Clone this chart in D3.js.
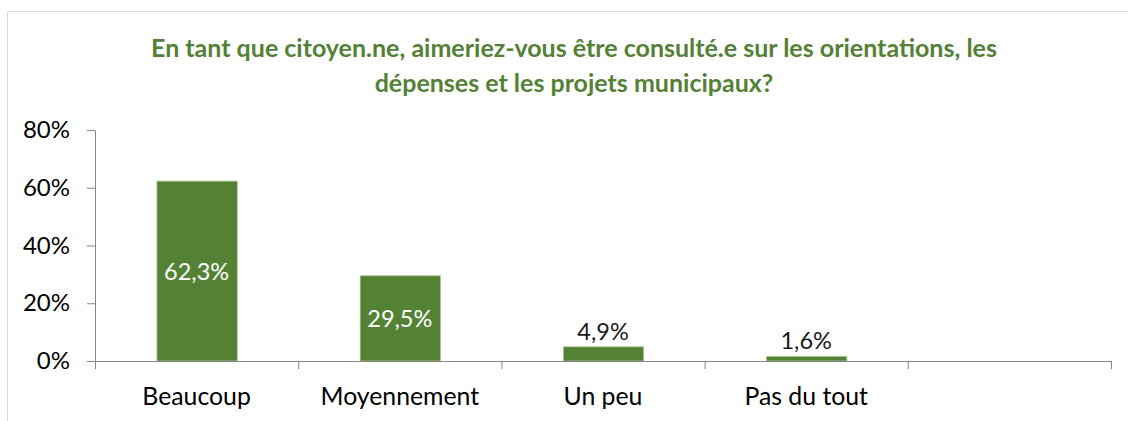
<!DOCTYPE html>
<html>
<head>
<meta charset="utf-8">
<script src="https://cdn.jsdelivr.net/npm/d3@7"></script>
<style>
  body { margin: 0; background: #fff; }
  svg { display: block; font-family: Lato, "Open Sans", sans-serif; }
</style>
</head>
<body>
<svg width="1128" height="421"></svg>
<script>
// chart data
var categories = ["Beaucoup", "Moyennement", "Un peu", "Pas du tout", ""];
var values = [0.623, 0.295, 0.049, 0.016];
var labels = ["62,3%", "29,5%", "4,9%", "1,6%"];
var yTicks = [0, 0.2, 0.4, 0.6, 0.8];
var titleLines = [
  "En tant que citoyen.ne, aimeriez-vous être consulté.e sur les orientations, les",
  "dépenses et les projets municipaux?"
];

var svg = d3.select("svg"),
  width = +svg.attr("width"),
  height = +svg.attr("height");

var green = "#548235";
var margin = {left: 95, right: 16, top: 130, bottom: 60};

// outer frame (only left and top edges visible)
svg.append("path")
  .attr("d", "M7.5," + height + "V11.5H" + width)
  .attr("fill", "none")
  .attr("stroke", "#d9d9d9");

svg.append("g").selectAll("text")
  .data(titleLines)
  .enter().append("text")
  .attr("x", 574)
  .attr("y", function(d, i) { return 57 + i * 35; })
  .attr("text-anchor", "middle")
  .attr("fill", "#538135")
  .attr("font-weight", "bold")
  .attr("font-size", 25)
  .text(function(d) { return d; });

var x = d3.scaleBand()
  .domain(d3.range(categories.length))
  .range([margin.left, 1111]);

var y = d3.scaleLinear()
  .domain([0, 0.8])
  .range([361, 130]);

// bars
svg.append("g").selectAll("rect")
  .data(values)
  .enter().append("rect")
  .attr("x", function(d, i) { return x(i) + x.bandwidth() * 0.305; })
  .attr("width", x.bandwidth() * 0.395)
  .attr("y", function(d) { return y(d); })
  .attr("height", function(d) { return y(0) - y(d); })
  .attr("fill", green)
  .attr("stroke", "#a9c490")
  .attr("stroke-width", 0.8);

// value labels
svg.append("g").selectAll("text")
  .data(values)
  .enter().append("text")
  .attr("x", function(d, i) { return x(i) + x.bandwidth() / 2; })
  .attr("y", function(d) {
    return d > 0.1 ? (y(d) + y(0)) / 2 + 9 : y(d) - 7;
  })
  .attr("text-anchor", "middle")
  .attr("font-size", 23.5)
  .attr("fill", function(d) { return d > 0.1 ? "#fff" : "#1a1a1a"; })
  .text(function(d, i) { return labels[i]; });

// y axis
var yAxis = svg.append("g")
  .attr("transform", "translate(" + margin.left + ",0)")
  .call(d3.axisLeft(y).tickValues(yTicks).tickSize(8).tickSizeOuter(0)
    .tickPadding(17).tickFormat(d3.format(".0%")));
yAxis.select(".domain").attr("stroke", "#868686");
yAxis.selectAll(".tick line").attr("stroke", "#868686");
yAxis.selectAll(".tick text")
  .attr("font-family", "Lato, sans-serif")
  .attr("font-size", 24)
  .attr("fill", "#000");

// x axis
var xAxis = svg.append("g")
  .attr("transform", "translate(0," + y(0) + ")")
  .call(d3.axisBottom(x).tickSize(0).tickPadding(26)
    .tickFormat(function(i) { return categories[i]; }));
xAxis.select(".domain").attr("stroke", "#868686");
xAxis.selectAll(".tick text")
  .attr("font-family", "Lato, sans-serif")
  .attr("font-size", 24.8)
  .attr("fill", "#000");

// boundary ticks between categories
var bounds = d3.range(categories.length + 1).map(function(i) {
  return i < categories.length ? x(i) : x.range()[1];
});
xAxis.selectAll(".bound")
  .data(bounds)
  .enter().append("line")
  .attr("class", "bound")
  .attr("x1", function(d) { return d + 0.5; })
  .attr("x2", function(d) { return d + 0.5; })
  .attr("y1", 0)
  .attr("y2", 8)
  .attr("stroke", "#868686");
</script>
</body>
</html>
